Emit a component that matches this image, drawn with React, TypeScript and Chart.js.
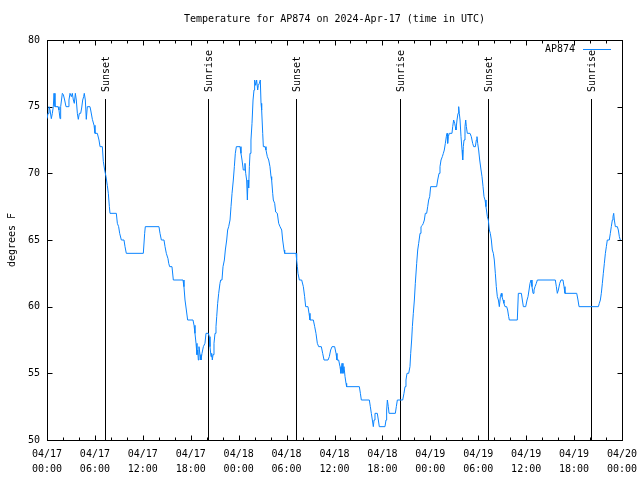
import React, { useEffect, useRef } from "react";
import { Chart, registerables } from "chart.js";

Chart.register(...registerables);

const TITLE = "Temperature for AP874 on 2024-Apr-17 (time in UTC)";
const SERIES_LABEL = "AP874";
const Y_LABEL = "degrees F";
const X_TICK_LABELS: string[][] = [
  ["04/17", "00:00"], ["04/17", "06:00"], ["04/17", "12:00"], ["04/17", "18:00"],
  ["04/18", "00:00"], ["04/18", "06:00"], ["04/18", "12:00"], ["04/18", "18:00"],
  ["04/19", "00:00"], ["04/19", "06:00"], ["04/19", "12:00"], ["04/19", "18:00"],
  ["04/20", "00:00"],
];
const Y_MIN = 50;
const Y_MAX = 80;
const X_MIN_HOURS = 0;
const X_MAX_HOURS = 72;
const EVENT_LABELS = ["Sunset", "Sunrise", "Sunset", "Sunrise", "Sunset", "Sunrise"];
const EVENT_HOURS = [7.31, 20.2, 31.18, 44.24, 55.26, 68.16];

// hours since 04/17 00:00 UTC
const HOURS = [
  0.0, 0.13, 0.25, 0.38, 0.54, 0.67, 0.79, 0.88, 1.0, 1.38, 1.5, 1.63, 1.71, 1.92, 2.05, 2.21, 2.38, 2.63, 2.75, 2.88,
  3.05, 3.17, 3.3, 3.42, 3.55, 3.67, 3.8, 3.92, 4.05, 4.22, 4.34, 4.47, 4.59, 4.67, 4.8, 4.92, 5.05, 5.38, 5.47, 5.68,
  5.89, 6.01, 6.3, 6.51, 6.64, 6.93, 7.05, 7.22, 7.39, 7.55, 7.68, 7.81, 7.89, 8.68, 8.81, 8.97, 9.1, 9.31, 9.64, 9.77,
  9.93, 12.06, 12.23, 12.31, 14.02, 14.15, 14.32, 14.65, 14.78, 14.94, 15.15, 15.24, 15.36, 15.65, 15.82, 17.03, 17.15,
  17.28, 17.45, 17.61, 18.28, 18.41, 18.53, 18.66, 18.78, 18.87, 18.95, 19.03, 19.16, 19.28, 19.41, 19.58, 19.78, 19.91,
  20.2, 20.33, 20.41, 20.54, 20.62, 20.7, 20.79, 20.91, 21.04, 21.16, 21.25, 21.37, 21.5, 21.66, 21.75, 21.91, 22.04,
  22.21, 22.33, 22.5, 22.62, 22.75, 22.92, 23.04, 23.17, 23.33, 23.46, 23.58, 23.71, 24.17, 24.29, 24.42, 24.58, 24.67,
  24.79, 24.88, 25.0, 25.09, 25.17, 25.25, 25.34, 25.42, 25.54, 25.67, 25.8, 25.92, 26.0, 26.13, 26.25, 26.38, 26.46,
  26.59, 26.71, 26.8, 26.88, 27.01, 27.09, 27.3, 27.42, 27.59, 27.76, 27.92, 28.05, 28.13, 28.26, 28.34, 28.51, 28.63,
  28.84, 29.01, 29.18, 29.39, 29.51, 29.68, 29.76, 31.18, 31.26, 31.35, 31.43, 31.6, 31.89, 32.1, 32.26, 32.39, 32.68,
  32.81, 32.93, 33.35, 33.52, 33.68, 33.85, 34.02, 34.35, 34.52, 34.69, 35.19, 35.35, 35.52, 35.69, 36.02, 36.19, 36.31,
  36.52, 36.69, 36.81, 36.94, 37.06, 37.19, 37.32, 37.44, 37.52, 39.11, 39.24, 39.36, 40.36, 40.49, 40.61, 40.74, 40.86,
  40.95, 41.07, 41.36, 41.49, 41.61, 42.32, 42.45, 42.53, 42.62, 42.74, 42.83, 43.62, 43.74, 43.87, 44.54, 44.7, 44.83,
  44.95, 45.08, 45.29, 45.45, 45.54, 45.66, 45.75, 45.87, 46.0, 46.12, 46.29, 46.42, 46.54, 46.71, 46.83, 47.0, 47.12,
  47.25, 47.37, 47.54, 47.67, 47.79, 47.92, 48.04, 48.79, 48.92, 49.09, 49.21, 49.34, 49.5, 49.63, 49.75, 49.88, 50.0,
  50.09, 50.17, 50.25, 50.38, 50.71, 50.8, 50.92, 51.05, 51.13, 51.21, 51.34, 51.47, 51.55, 51.63, 51.72, 51.84, 51.97,
  52.05, 52.13, 52.22, 52.34, 52.43, 52.51, 52.63, 52.97, 53.13, 53.3, 53.43, 53.64, 53.76, 53.84, 53.93, 54.05, 54.18,
  54.35, 54.47, 54.6, 54.72, 54.85, 54.97, 55.14, 55.26, 55.39, 55.51, 55.64, 55.76, 55.89, 56.01, 56.14, 56.26, 56.39,
  56.52, 56.64, 56.77, 56.89, 56.97, 57.1, 57.22, 57.35, 57.56, 57.68, 57.81, 57.89, 58.89, 59.02, 59.4, 59.52, 59.65,
  59.94, 60.11, 60.23, 60.36, 60.48, 60.61, 60.73, 60.86, 60.98, 61.11, 61.27, 61.4, 63.65, 63.78, 63.9, 64.03, 64.2,
  64.36, 64.61, 64.74, 64.86, 66.33, 66.49, 66.62, 69.04, 69.16, 69.29, 69.41, 69.54, 69.66, 69.79, 69.92, 70.04, 70.16,
  70.41, 70.54, 70.66, 70.79, 70.87, 70.96, 71.04, 71.17, 71.42, 71.54, 71.67, 71.79,
];

const TEMP_F = [
  74.1, 74.5, 75, 74.75, 74.1, 74.5, 75, 76, 75, 75, 74.75, 74.1, 75, 76, 75.9, 75.5, 75, 75, 75.5, 76,
  75.75, 76, 75.5, 75.25, 76, 75.5, 74.5, 74.05, 74.5, 74.5, 74.9, 75.5, 75.75, 76, 75.5, 74.05, 75, 75, 74.75, 74.05,
  73.6, 73, 73, 72.5, 72, 72, 70.9, 70.25, 69.75, 69.1, 68.5, 67.5, 67, 67, 66.25, 66, 65.5, 65, 65, 64.5,
  64, 64, 65.5, 66, 66, 65.5, 65, 65, 64.5, 64, 63.6, 63.25, 63, 63, 62, 62, 61.5,
  60.5, 59.75, 59, 59, 58.6, 58, 57.25, 56.4, 56.75, 56, 57, 56.4, 56, 56.5, 57, 57.25, 58,
  58, 57.75, 57, 56.25, 56.5, 56, 56.4, 57.25, 58, 58.5, 59.25, 60.25, 61, 61.75, 62, 62, 63,
  63.5, 64.25, 65, 65.75, 66, 66.5, 67.5, 68.5, 69.5, 70.5, 71.5, 72, 72, 71.5, 71, 70.25, 70.25,
  70.75, 70, 69.5, 68, 69.5, 68.9, 70.5, 71.5, 72.5, 73.75, 75.5, 76.25, 77, 76.6, 77, 76.25, 76.6,
  76.75, 77, 75.25, 74.75, 73, 72, 72, 71.75, 71.25, 71, 70.5, 69.75, 69.5, 68.5, 68, 67.75, 67.1,
  67, 66.25, 66, 65.75, 65, 64.25, 64, 64, 63.5, 63, 62.5, 62, 62, 61.5, 60.75, 60, 60,
  59.5, 59, 59, 58.5, 58, 57.25, 57, 57, 56.5, 56, 56, 56.25, 56.75, 57, 57, 56.5, 56,
  56, 55.5, 55, 55.75, 55, 55.5, 54.75, 54.25, 54, 54, 53.5, 53, 53, 52.5, 52, 51.5, 51,
  51.5, 52, 52, 51.5, 51, 51, 51.5, 52.25, 53, 52.5, 52, 52, 52.5, 53, 53, 53.5, 54,
  54.5, 55, 55, 55.5, 56.5, 57.5, 58.5, 59.5, 60.5, 61.75, 63.25, 64.25, 64.75, 65.5, 66, 66.1, 66.25,
  66.5, 67, 67, 67.5, 68, 68.25, 69, 69, 69.5, 70, 70.5, 71, 71.25, 71.5, 71.75, 72.25, 72.75,
  73, 72.25, 72.75, 73, 73, 73.5, 74, 73.75, 73.5, 73.25, 74, 74.5, 75, 74.5, 74, 72.75, 71.75,
  71, 72, 72.5, 73.5, 74, 73.5, 73, 73, 72.75, 72.25, 72, 72, 72.5, 72.75, 72.25, 71.75, 71,
  70.25, 69.75, 69, 68.25, 68, 67.5, 66.75, 66.5, 65.75, 65.5, 65, 64.25, 64, 63.5, 62.5, 61.5, 60.75,
  60.5, 60, 60.75, 61, 60.75, 60.5, 60.25, 60, 60, 59.75, 59.25, 59, 59, 61, 61, 60.5, 60,
  60, 60.5, 60.75, 61.25, 61.75, 62, 61.5, 61, 61.25, 61.5, 61.75, 62, 62, 61.5, 61, 61.25, 61.75,
  62, 62, 61.5, 61, 61, 60.5, 60, 60, 60.25, 60.5, 61, 61.75, 62.5, 63.25, 64, 64.5, 65,
  65, 65.5, 66, 66.5, 66.75, 67, 66.5, 66, 66, 65.75, 65.25, 65,
];

const FONT_FAMILY = "'DejaVu Sans Mono', monospace";
const LINE_COLOR = "rgb(10,132,255)";

const framePlugin = {
  id: "gnuplotFrame",
  beforeDatasetsDraw(chart: any) {
    const { ctx, chartArea } = chart;
    const xs = chart.scales.x;
    const ys = chart.scales.y;
    const L = Math.round(chartArea.left) + 0.5;
    const R = Math.round(chartArea.right) + 0.5;
    const T = Math.round(chartArea.top) + 0.5;
    const B = Math.round(chartArea.bottom) + 0.5;
    ctx.save();
    ctx.strokeStyle = "#000";
    ctx.lineWidth = 1;
    ctx.beginPath();
    for (let h = X_MIN_HOURS; h <= X_MAX_HOURS; h += 2) {
      const px = Math.round(xs.getPixelForValue(h)) + 0.5;
      const len = h % 6 === 0 ? 5 : 3;
      ctx.moveTo(px, B);
      ctx.lineTo(px, B - len);
      ctx.moveTo(px, T);
      ctx.lineTo(px, T + len);
    }
    for (let v = Y_MIN; v <= Y_MAX; v += 5) {
      const py = Math.round(ys.getPixelForValue(v)) + 0.5;
      ctx.moveTo(L, py);
      ctx.lineTo(L + 5, py);
      ctx.moveTo(R, py);
      ctx.lineTo(R - 5, py);
    }
    ctx.stroke();
    ctx.strokeRect(L, T, R - L, B - T);
    ctx.beginPath();
    EVENT_HOURS.forEach((h) => {
      const px = Math.round(xs.getPixelForValue(h)) + 0.5;
      ctx.moveTo(px, 99);
      ctx.lineTo(px, B);
    });
    ctx.stroke();
    ctx.restore();
  },
  afterDraw(chart: any) {
    const { ctx, chartArea } = chart;
    const xs = chart.scales.x;
    ctx.save();
    ctx.fillStyle = "#000";
    ctx.font = `10px ${FONT_FAMILY}`;
    ctx.textAlign = "center";
    ctx.textBaseline = "middle";
    ctx.fillText(TITLE, (chartArea.left + chartArea.right) / 2, 19);
    ctx.save();
    ctx.translate(12, (chartArea.top + chartArea.bottom) / 2);
    ctx.rotate(-Math.PI / 2);
    ctx.fillText(Y_LABEL, 0, 0);
    ctx.restore();
    EVENT_HOURS.forEach((h, i) => {
      const px = Math.round(xs.getPixelForValue(h)) + 1;
      ctx.save();
      ctx.translate(px, 92);
      ctx.rotate(-Math.PI / 2);
      ctx.textAlign = "left";
      ctx.textBaseline = "middle";
      ctx.fillText(EVENT_LABELS[i], 0, 0);
      ctx.restore();
    });
    ctx.textAlign = "right";
    ctx.textBaseline = "middle";
    ctx.fillText(SERIES_LABEL, 575, 49);
    ctx.strokeStyle = LINE_COLOR;
    ctx.lineWidth = 1;
    ctx.beginPath();
    ctx.moveTo(583, 49.5);
    ctx.lineTo(611, 49.5);
    ctx.stroke();
    ctx.restore();
  },
};

export default function App() {
  const canvasRef = useRef<HTMLCanvasElement | null>(null);

  useEffect(() => {
    const canvas = canvasRef.current;
    if (!canvas) return;
    const points = HOURS.map((h, i) => ({ x: h, y: TEMP_F[i] }));
    const chart = new Chart(canvas, {
      type: "line",
      data: {
        datasets: [
          {
            label: SERIES_LABEL,
            data: points,
            borderColor: LINE_COLOR,
            backgroundColor: LINE_COLOR,
            borderWidth: 1,
            pointRadius: 0,
            tension: 0,
            fill: false,
          },
        ],
      },
      options: {
        animation: false,
        responsive: false,
        maintainAspectRatio: false,
        layout: { padding: { left: 0, right: 18, top: 40, bottom: 0 } },
        plugins: {
          legend: { display: false },
          title: { display: false },
          tooltip: { enabled: false },
        },
        scales: {
          x: {
            type: "linear",
            min: X_MIN_HOURS,
            max: X_MAX_HOURS,
            grid: { display: false, drawTicks: false },
            border: { display: false },
            ticks: {
              stepSize: 6,
              autoSkip: false,
              maxRotation: 0,
              minRotation: 0,
              padding: 7,
              color: "#000",
              font: { family: FONT_FAMILY, size: 10, lineHeight: 1.5 },
              callback: (value: any) => X_TICK_LABELS[Math.round(Number(value) / 6)] ?? "",
            },
            afterFit: (s: any) => {
              s.height = 40;
              s.paddingLeft = 0;
              s.paddingRight = 0;
            },
          },
          y: {
            type: "linear",
            min: Y_MIN,
            max: Y_MAX,
            grid: { display: false, drawTicks: false },
            border: { display: false },
            ticks: {
              stepSize: 5,
              padding: 7,
              color: "#000",
              font: { family: FONT_FAMILY, size: 10 },
            },
            afterFit: (s: any) => {
              s.width = 47;
              s.paddingTop = 0;
              s.paddingBottom = 0;
            },
          },
        },
      },
      plugins: [framePlugin],
    } as any);
    return () => chart.destroy();
  }, []);

  return (
    <div style={{ position: "absolute", left: 0, top: 0, width: 640, height: 480, background: "#fff" }}>
      <canvas ref={canvasRef} width={640} height={480} style={{ width: 640, height: 480 }} />
    </div>
  );
}
